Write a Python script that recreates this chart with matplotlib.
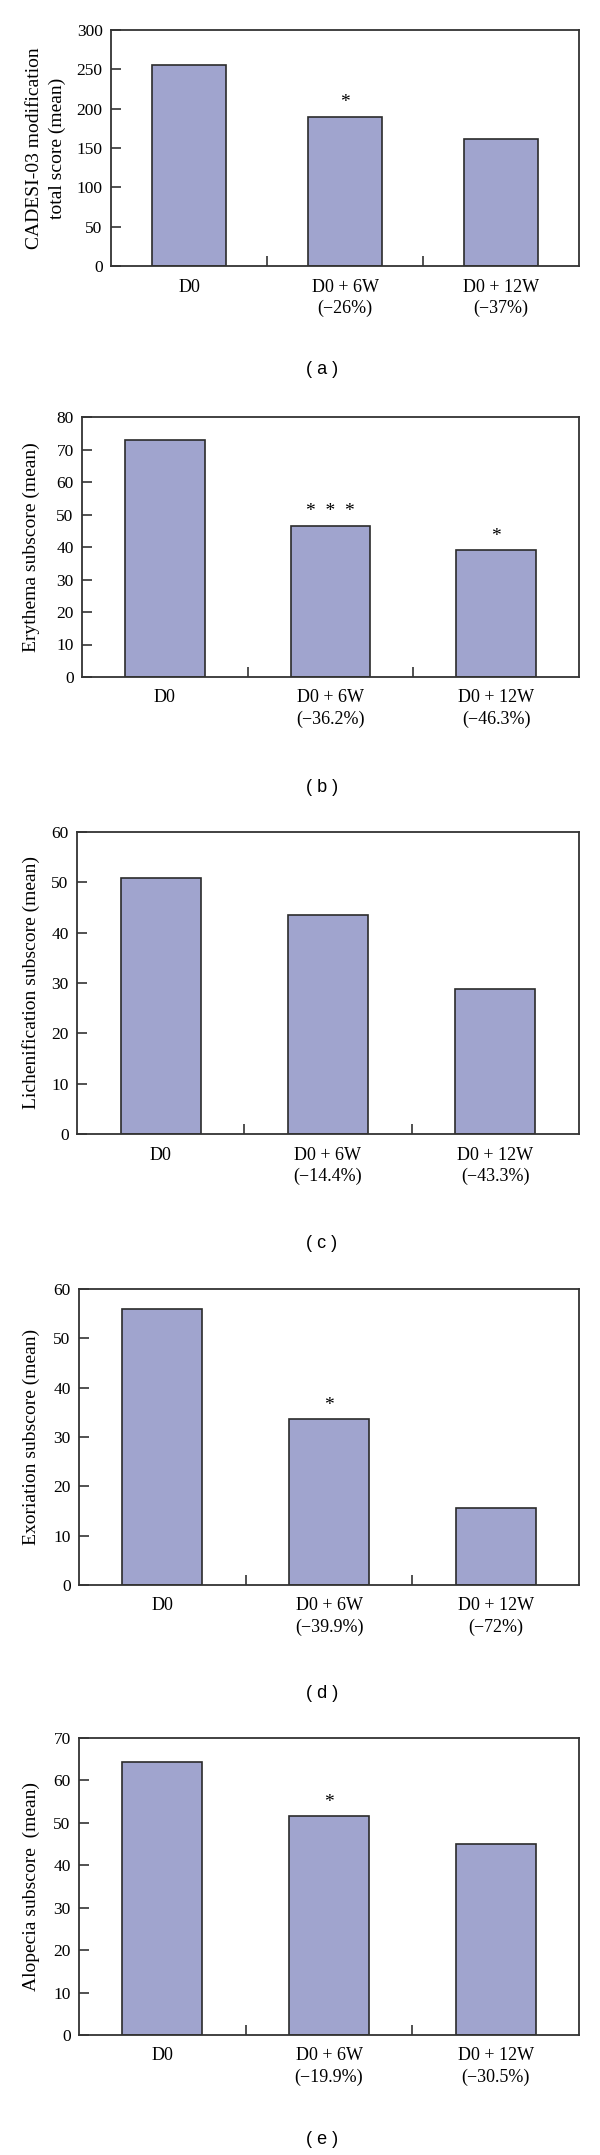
import matplotlib
matplotlib.use('Agg')
import matplotlib.pyplot as plt
import numpy as np

plt.rcParams['font.family'] = ['Liberation Serif', 'DejaVu Serif']

categories = ['D0', 'D0 + 6W', 'D0 + 12W']

cadesi = [255.5, 190, 161]
cadesi_pct = ['', '(\u221226%)', '(\u221237%)']
cadesi_stars = ['', '*', '']

erythema = [72.8, 46.5, 39.1]
erythema_pct = ['', '(\u221236.2%)', '(\u221246.3%)']
erythema_stars = ['', '*  *  *', '*']

lichen = [50.9, 43.5, 28.8]
lichen_pct = ['', '(\u221214.4%)', '(\u221243.3%)']
lichen_stars = ['', '', '']

excoriation = [55.9, 33.6, 15.6]
excoriation_pct = ['', '(\u221239.9%)', '(\u221272%)']
excoriation_stars = ['', '*', '']

alopecia = [64.4, 51.5, 45.0]
alopecia_pct = ['', '(\u221219.9%)', '(\u221230.5%)']
alopecia_stars = ['', '*', '']

panels = [
    ('CADESI-03 modification\ntotal score (mean)', cadesi, cadesi_pct, cadesi_stars, 300, 50, '( a )'),
    ('Erythema subscore (mean)', erythema, erythema_pct, erythema_stars, 80, 10, '( b )'),
    ('Lichenification subscore (mean)', lichen, lichen_pct, lichen_stars, 60, 10, '( c )'),
    ('Exoriation subscore (mean)', excoriation, excoriation_pct, excoriation_stars, 60, 10, '( d )'),
    ('Alopecia subscore  (mean)', alopecia, alopecia_pct, alopecia_stars, 70, 10, '( e )'),
]

# pixel boxes (left, right, top, bottom) and label positions
W, H = 600, 2155
boxes = [(111, 579, 30, 266), (82, 579, 417, 677), (77, 579, 832, 1134),
         (79, 579, 1289, 1585), (79, 579, 1738, 2035)]
ylabel_x = [46, 31, 31, 31, 31]
panel_y = [370, 787, 1243, 1693, 2140]

bar_color = '#a0a4ce'
edge = '#2b2b2b'

fig = plt.figure(figsize=(W / 100, H / 100), dpi=100)

for (ylabel, vals, pct, stars, ymax, step, tag), (l, r, t, b), lx, py in zip(panels, boxes, ylabel_x, panel_y):
    ax = fig.add_axes([l / W, 1 - b / H, (r - l) / W, (b - t) / H])
    x = np.arange(len(categories))
    ax.bar(x, vals, width=0.48, color=bar_color, edgecolor=edge, linewidth=1.2, zorder=2)
    for xi, v, s in zip(x, vals, stars):
        if s:
            ax.annotate(s, (xi, v), xytext=(0, 10), textcoords='offset points',
                        ha='center', va='center', fontsize=14)
    ax.set_xlim(-0.5, 2.5)
    ax.set_ylim(0, ymax)
    ax.set_yticks(np.arange(0, ymax + 1, step))
    labels = [c + ('\n' + p if p else '') for c, p in zip(categories, pct)]
    ax.set_xticks(x)
    ax.set_xticklabels(labels, linespacing=1.35)
    ax.set_xticks([0.5, 1.5], minor=True)
    ax.tick_params(axis='x', which='major', length=0, pad=9, labelsize=13)
    ax.tick_params(axis='x', which='minor', direction='in', length=7, width=1.2, color='#333333')
    ax.tick_params(axis='y', direction='in', length=7, width=1.2, color='#333333', pad=6, labelsize=12.5)
    for sp in ax.spines.values():
        sp.set_color('#333333')
        sp.set_linewidth(1.3)
    ax.set_ylabel(ylabel, fontsize=14, va='center', ha='center', linespacing=1.4)
    ax.yaxis.set_label_coords((lx - l) / (r - l), 0.5)
    fig.text(322 / W, 1 - py / H, tag, ha='center', va='center', fontsize=13,
             family=['Liberation Sans', 'DejaVu Sans'])

fig.savefig('out.png', dpi=100)
